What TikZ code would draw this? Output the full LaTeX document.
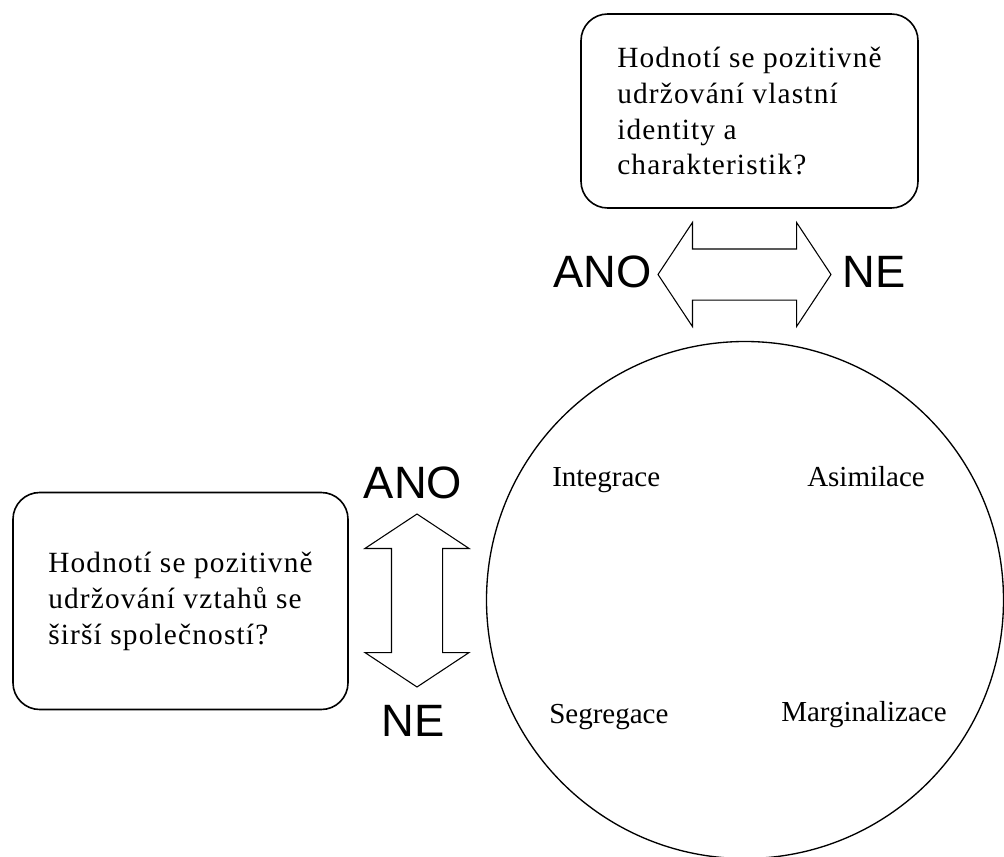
\documentclass[tikz,border=0pt]{standalone}
\usepackage{fontspec}
\setmainfont{Liberation Serif}
\newfontfamily\arialfont{Liberation Sans}
\usetikzlibrary{shapes,arrows,positioning}

\begin{document}
\begin{tikzpicture}[
    x=0.75pt, y=-0.75pt,
    question/.style={draw, line width=1.2pt, rounded corners=20pt, align=left, inner sep=0pt,
        font=\fontsize{22pt}{27pt}\selectfont\addfontfeature{LetterSpace=4}},
    dblarrow/.style={draw, double arrow, line width=0.8pt, inner xsep=0pt, inner ysep=18.75pt,
        minimum height=129.75pt,
        double arrow head extend=19.9pt, double arrow tip angle=113},
    answer/.style={font=\arialfont\fontsize{34pt}{40pt}\selectfont, inner sep=0pt},
    strategy/.style={font=\fontsize{21.75pt}{26pt}\selectfont, inner sep=0pt, anchor=base west}
]
\useasboundingbox (0,0) rectangle (1004,857);

\node[question, minimum width=252.75pt, minimum height=145.5pt] (identity) at (749.5,111)
    {Hodnotí se pozitivně\\udržování vlastní\\identity a\\charakteristik?};
\node[question, minimum width=251.25pt, minimum height=162.75pt] (society) at (180.5,601)
    {Hodnotí se pozitivně\\udržování vztahů se\\širší společností?};

\node[dblarrow] (harrow) at (744.5,274.5) {};
\node[dblarrow, rotate=90] (varrow) at (417,600.5) {};

\node[answer, anchor=base east] (hano) at (652,287) {ANO};
\node[answer, anchor=base west] (hne) at (842,287) {NE};
\node[answer, anchor=base] (vano) at (413,498) {ANO};
\node[answer, anchor=base] (vne) at (413,736) {NE};

\node[draw, circle, line width=1pt, inner sep=0pt, minimum size=387.75pt] (acc) at (745,600) {};
\node[strategy] (integ) at (552,486) {Integrace};
\node[strategy] (asim) at (807,486) {Asimilace};
\node[strategy] (segr) at (549,723) {Segregace};
\node[strategy] (marg) at (781,721) {Marginalizace};
\end{tikzpicture}
\end{document}
